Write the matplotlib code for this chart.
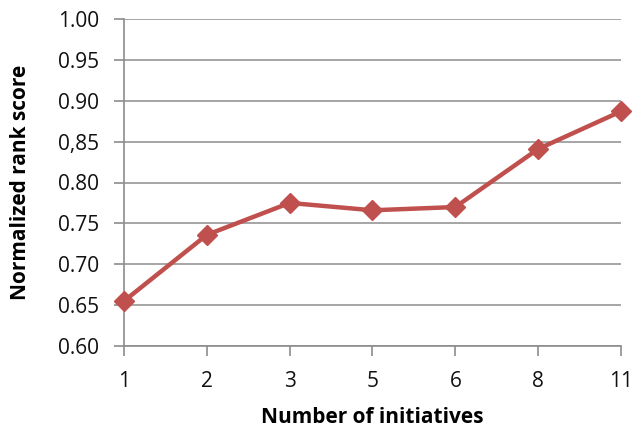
import matplotlib
matplotlib.use("Agg")
import matplotlib.pyplot as plt

categories = ["1", "2", "3", "5", "6", "8", "11"]
scores = [0.655, 0.736, 0.775, 0.766, 0.770, 0.841, 0.887]
yticks = [0.60, 0.65, 0.70, 0.75, 0.80, 0.85, 0.90, 0.95, 1.00]
ytick_labels = ["0.60", "0.65", "0.70", "0.75", "0.80", "0,85", "0.90", "0.95", "1.00"]

plt.rcParams['font.family'] = ['Open Sans', 'DejaVu Sans']

fig = plt.figure(figsize=(6.32, 4.30), dpi=100)
ax = fig.add_axes([124/632, 1 - 346/430, (621-124)/632, (346-19)/430])

x = list(range(len(categories)))
ax.plot(x, scores, color="#C0504D", lw=3.2, marker="D", markersize=10,
        markeredgecolor="#C0504D", markerfacecolor="#C0504D", zorder=3, clip_on=False)

ax.set_xlim(0, len(categories) - 1)
ax.set_ylim(0.60, 1.00)
ax.set_yticks(yticks)
ax.set_yticklabels(ytick_labels)
ax.set_xticks(x)
ax.set_xticklabels(categories)

ax.grid(axis="y", color="#969696", lw=1.2)
ax.set_axisbelow(True)
for s in ["top", "right"]:
    ax.spines[s].set_visible(False)
for s in ["left", "bottom"]:
    ax.spines[s].set_color("#8c8c8c")
    ax.spines[s].set_linewidth(1.2)
ax.tick_params(axis="both", colors="#8c8c8c", length=7, width=1.2, direction="out",
               labelcolor="#111111", labelsize=15)
ax.tick_params(axis="y", pad=11)
ax.tick_params(axis="x", pad=11)

ax.set_xlabel("Number of initiatives", fontsize=15, fontweight="bold", labelpad=11)
ax.set_ylabel("Normalized rank score", fontsize=15, fontweight="bold", labelpad=19)

fig.savefig("out.png", dpi=100)
